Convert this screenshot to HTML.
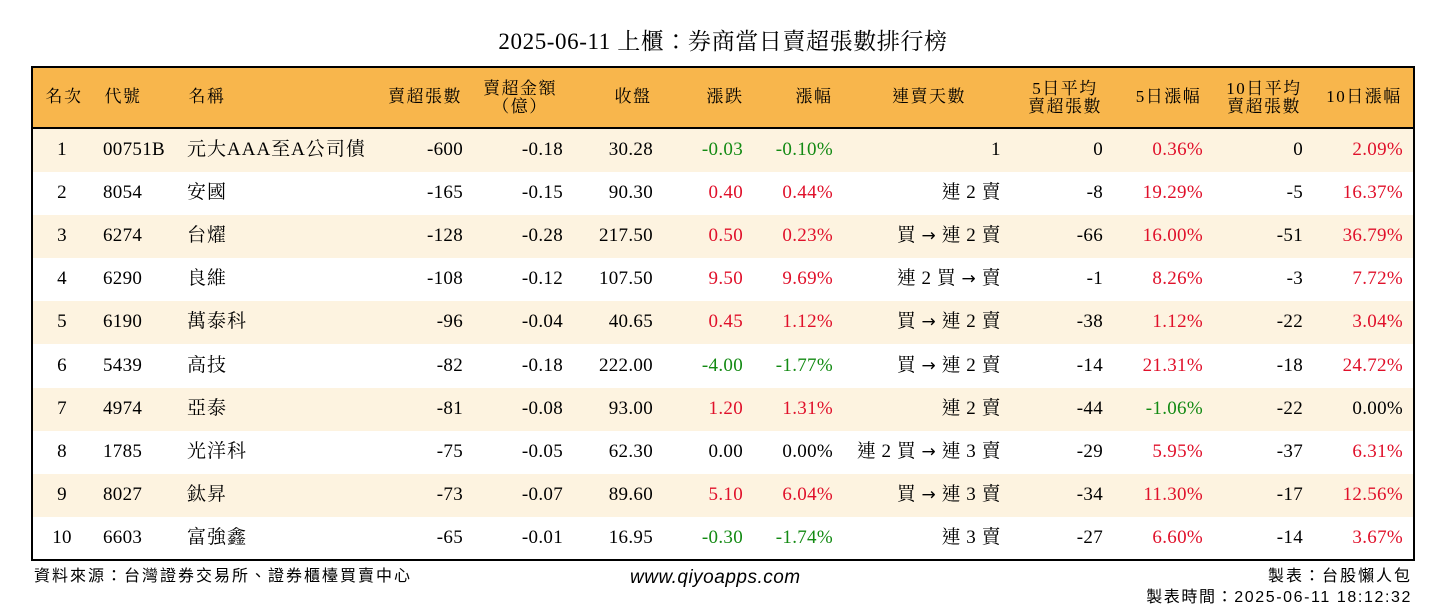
<!DOCTYPE html>
<html><head><meta charset="utf-8">
<style>
body{margin:0;width:1446px;height:612px;background:#fff;position:relative;overflow:hidden;font-family:"Liberation Serif","Noto Serif CJK TC",serif;color:#000}
.a{position:absolute;white-space:nowrap}
#title{left:0;width:1446px;top:28px;text-align:center;font-size:23px;line-height:28px;letter-spacing:0.6px}
#box{left:31px;top:66px;width:1380px;height:491px;border:2px solid #000}
#hdr{left:33px;top:68px;width:1380px;height:59px;background:#F8B64C;border-bottom:2px solid #000}
.h{font-size:17px;line-height:18px;text-align:center;letter-spacing:1.5px}
.c{font-size:19px;line-height:26px;letter-spacing:0.3px}
.cj{letter-spacing:1px}
.st{letter-spacing:0.5px}
.ar{font-family:"DejaVu Sans",sans-serif;font-size:17px}
.r{color:#E0102A}.g{color:#138A13}
.foot{font-family:"Liberation Sans","Noto Sans CJK TC",sans-serif;font-size:16px;letter-spacing:2px;line-height:20px}
</style></head><body>
<div class="a" id="title">2025-06-11 上櫃：券商當日賣超張數排行榜</div>
<div class="a" id="hdr"></div>
<div id="rows"></div>
<div class="a" id="box"></div>
<div id="heads"></div>
<div class="a foot" style="left:34px;top:567px">資料來源：台灣證券交易所、證券櫃檯買賣中心</div>
<div class="a" style="left:630px;top:567px;font-family:'Liberation Sans',sans-serif;font-style:italic;font-size:19px;letter-spacing:0.5px">www.qiyoapps.com</div>
<div class="a foot" style="right:34px;top:567px">製表：台股懶人包</div>
<div class="a foot" style="right:34px;top:588px;letter-spacing:1.6px">製表時間：2025-06-11 18:12:32</div>
<script>
const ranks=[1,2,3,4,5,6,7,8,9,10];
const codes=["00751B","8054","6274","6290","6190","5439","4974","1785","8027","6603"];
const names=["元大AAA至A公司債","安國","台燿","良維","萬泰科","高技","亞泰","光洋科","鈦昇","富強鑫"];
const sellQty=[-600,-165,-128,-108,-96,-82,-81,-75,-73,-65];
const sellAmt=["-0.18","-0.15","-0.28","-0.12","-0.04","-0.18","-0.08","-0.05","-0.07","-0.01"];
const closes=["30.28","90.30","217.50","107.50","40.65","222.00","93.00","62.30","89.60","16.95"];
const chg=["-0.03","0.40","0.50","9.50","0.45","-4.00","1.20","0.00","5.10","-0.30"];
const chgPct=["-0.10%","0.44%","0.23%","9.69%","1.12%","-1.77%","1.31%","0.00%","6.04%","-1.74%"];
const streak=["1","連 2 賣","買 → 連 2 賣","連 2 買 → 賣","買 → 連 2 賣","買 → 連 2 賣","連 2 賣","連 2 買 → 連 3 賣","買 → 連 3 賣","連 3 賣"];
const avg5=[0,-8,-66,-1,-38,-14,-44,-29,-34,-27];
const pct5=["0.36%","19.29%","16.00%","8.26%","1.12%","21.31%","-1.06%","5.95%","11.30%","6.60%"];
const avg10=[0,-5,-51,-3,-22,-18,-22,-37,-17,-14];
const pct10=["2.09%","16.37%","36.79%","7.72%","3.04%","24.72%","0.00%","6.31%","12.56%","3.67%"];
const heads=[["名次",42,86],["代號",101,145],["名稱",185,229],["賣超張數",384,466],["賣超金額<br>（億）",482,558],["收盤",609,657],["漲跌",703,747],["漲幅",791,837],["連賣天數",885,973],["5日平均<br>賣超張數",1023,1107],["5日漲幅",1130,1207],["10日平均<br>賣超張數",1221,1307],["10日漲幅",1321,1407]];
const H=document.getElementById('heads');
heads.forEach(h=>{const d=document.createElement('div');d.className='a h';


d.style.left=h[1]+'px';d.style.width=(h[2]-h[1])+'px';
const two=h[0].includes('<br>');d.style.top=(two?80:88)+'px';d.innerHTML=h[0];H.appendChild(d);});
function col(v){const n=parseFloat(v);return n>0?'r':n<0?'g':'';}
const R=document.getElementById('rows');
function cell(row,txt,x,right,cls,y,html){const d=document.createElement('div');d.className='a c '+(cls||'');


d.style.top=(y+8)+'px';
if(right==='c'){d.style.left=(x-20)+'px';d.style.width='40px';d.style.textAlign='center';}
else if(right){d.style.right=(1446-x)+'px';}else d.style.left=x+'px';
if(html)d.innerHTML=String(txt).replace('→','<span class="ar">→</span>');else d.textContent=txt;
row.appendChild(d);}
ranks.forEach((rk,i)=>{const y=129+i*43.1;
const bg=document.createElement('div');bg.className='a';


bg.style.cssText=`left:33px;top:${y}px;width:1380px;height:43.1px;background:${i%2==0?'#FDF3E0':'#fff'}`;
R.appendChild(bg);
cell(R,rk,62,'c','',y);
cell(R,codes[i],103,false,'',y);
cell(R,names[i],187,false,'cj',y);
cell(R,sellQty[i],463,true,'',y);
cell(R,sellAmt[i],563,true,'',y);
cell(R,closes[i],653,true,'',y);
cell(R,chg[i],743,true,col(chg[i]),y);
cell(R,chgPct[i],833,true,col(chgPct[i]),y);
cell(R,streak[i],1001,true,'st',y,true);
cell(R,avg5[i],1103,true,'',y);
cell(R,pct5[i],1203,true,col(pct5[i]),y);
cell(R,avg10[i],1303,true,'',y);
cell(R,pct10[i],1403,true,col(pct10[i]),y);
});
</script>
</body></html>
